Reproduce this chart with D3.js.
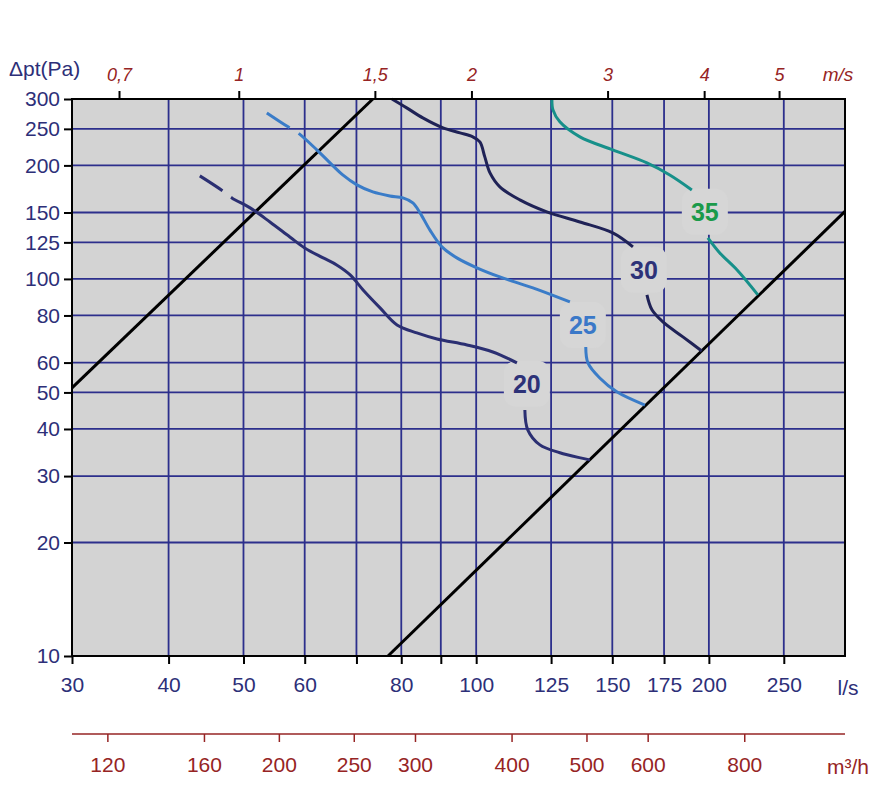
<!DOCTYPE html>
<html><head><meta charset="utf-8">
<script src="https://cdn.jsdelivr.net/npm/d3@7"></script>
<style>body{margin:0;background:#fff}svg{display:block;font-family:"Liberation Sans",Arial,sans-serif}</style>
</head><body><svg id="c" width="877" height="796"></svg>
<script>
// ---- data ----
const flowTicks = [30,40,50,60,70,80,90,100,125,150,175,200,250];
const flowLabels = [30,40,50,60,80,100,125,150,175,200,250];
const dpTicks = [10,20,30,40,50,60,80,100,125,150,200,250,300];
const dpGrid = [20,30,40,50,60,80,100,125,150,200,250];
const velTicks = [0.7,1,1.5,2,3,4,5];
const velFactor = 49.3;          // l/s per m/s
const m3hTicks = [120,160,200,250,300,400,500,600,800];

const limitLow  = [[30,51.4],[73.5,300]];
const limitHigh = [[76.9,10],[300,151]];

const nc20Upper = [[43.9,187.6],[47.0,171.2],[48.3,164.0],[51.0,154.3],[54.1,141.6],[57.4,129.2],[60.0,120.8],[63.4,113.7],[66.0,108.9],[68.7,102.5],[71.4,93.5],[75.1,83.8],[79.0,75.5],[83.8,71.9],[89.0,69.3],[97.3,66.8],[105.1,64.0],[112.9,59.9]];
const nc20Lower = [[115.6,44.9],[116.6,39.8],[120.9,36.3],[128.3,34.6],[140.3,33.1]];
const nc25Upper = [[53.6,275.6],[57.1,253.1],[58.8,244.0],[62.2,219.9],[64.7,203.1],[67.2,188.7],[70.1,177.6],[73.5,170.1],[77.3,166.0],[80.4,164.0],[82.8,159.1],[84.6,149.7],[87.1,134.9],[90.3,121.6],[94.4,113.7],[100.2,107.0],[107.3,101.2],[118.4,94.7],[132.2,86.9]];
const nc25Lower = [[138.6,66.0],[139.5,59.9],[144.5,54.6],[152.0,50.2],[165.3,46.3]];
const nc30Upper = [[77.8,300],[81.3,284.2],[85.3,267.3],[90.6,251.5],[95.3,244.0],[99.0,238.1],[101.1,230.9],[102.6,210.7],[104.2,191.0],[107.3,175.4],[113.9,162.0],[123.4,150.6],[136.2,141.6],[150.2,132.4],[159.5,121.6]];
const nc30Lower = [[166.3,90.7],[168.8,82.8],[174.4,76.9],[185.1,70.2],[195.8,64.4]];
const nc35Upper = [[125.3,298.4],[125.7,280.7],[128.3,260.9],[136.2,238.1],[150.2,219.9],[166.3,203.1],[178.0,188.7],[190.1,172.2]];
const nc35Lower = [[199.4,128.5],[206.6,117.2],[217.4,105.7],[231.4,90.7]];
const ncLabels = [
  {t:"20", q:116.3, dp:52.7},
  {t:"25", q:137.4, dp:75.5},
  {t:"30", q:164.8, dp:105.7},
  {t:"35", q:197.6, dp:150.6}
];

// ---- layout ----
const L=72, R=845, T=99, B=656;
const navy="#2d2f78", red="#962424", bg="#d3d3d3", grid="#2c2f8c";
const svg=d3.select("#c");
const x=d3.scaleLog().domain([30,300]).range([L,R]);
const y=d3.scaleLog().domain([10,300]).range([B,T]);

svg.append("rect").attr("x",L).attr("y",T).attr("width",R-L).attr("height",B-T).attr("fill",bg);

// grid
const g=svg.append("g");
g.selectAll(".vg").data(flowTicks.filter(d=>d>30)).join("line")
  .attr("x1",d=>x(d)).attr("x2",d=>x(d)).attr("y1",T).attr("y2",B)
  .attr("stroke",grid).attr("stroke-width",1.8);
g.selectAll(".hg").data(dpGrid).join("line")
  .attr("y1",d=>y(d)).attr("y2",d=>y(d)).attr("x1",L).attr("x2",R)
  .attr("stroke",grid).attr("stroke-width",1.8);

// label backgrounds (gaps in grid)
const lblBox = svg.append("g");
ncLabels.forEach(l=>{
  lblBox.append("rect").attr("x",x(l.q)-23).attr("y",y(l.dp)-23).attr("width",46).attr("height",46)
    .attr("rx",12).attr("fill","#d6d6d6");
});

// limit lines
const line=d3.line().x(d=>x(d[0])).y(d=>y(d[1]));
[limitLow,limitHigh].forEach(d=>svg.append("path").attr("d",line(d)).attr("fill","none")
  .attr("stroke","#000").attr("stroke-width",3));

// noise curves
const cl=d3.line().x(d=>x(d[0])).y(d=>y(d[1])).curve(d3.curveCatmullRom.alpha(0.5));
function curve(data,color,dashed){
  const p=svg.append("path").attr("d",cl(data)).attr("fill","none").attr("stroke",color)
    .attr("stroke-width",3).attr("stroke-linecap","butt");
  if(dashed){const len=p.node().getTotalLength();p.attr("stroke-dasharray",`27,11,${len}`);}
}
const c20="#2b2f72", c25="#3a7cc8", c30="#1f2256", c35="#17908a";
curve(nc20Upper,c20,true); curve(nc20Lower,c20,false);
curve(nc25Upper,c25,true); curve(nc25Lower,c25,false);
curve(nc30Upper,c30,false); curve(nc30Lower,c30,false);
curve(nc35Upper,c35,false); curve(nc35Lower,c35,false);

const lblColors={"20":"#2d3278","25":"#3a78c8","30":"#2d3278","35":"#1a9a4a"};
ncLabels.forEach(l=>{
  svg.append("text").attr("x",x(l.q)).attr("y",y(l.dp)).attr("dy","0.36em").attr("text-anchor","middle")
    .attr("font-size",25).attr("font-weight","bold").attr("fill",lblColors[l.t]).text(l.t);
});

// frame
svg.append("rect").attr("x",L).attr("y",T).attr("width",R-L).attr("height",B-T)
  .attr("fill","none").attr("stroke","#000").attr("stroke-width",2);

// axes
const fmtComma=d=>String(d).replace(".",",");
const ax=svg.append("g").attr("transform",`translate(${L},0)`)
  .call(d3.axisLeft(y).tickValues(dpTicks).tickSize(8).tickPadding(4).tickFormat(d=>d));
const bx=svg.append("g").attr("transform",`translate(0,${B})`)
  .call(d3.axisBottom(x).tickValues(flowTicks).tickSize(8).tickPadding(13).tickFormat(d=>flowLabels.includes(d)?d:""));
const tx=svg.append("g").attr("transform",`translate(0,${T})`)
  .call(d3.axisTop(x).tickValues(velTicks.map(v=>v*velFactor)).tickSize(8).tickPadding(10)
    .tickFormat((d,i)=>fmtComma(velTicks[i])));
const mx=svg.append("g").attr("transform",`translate(0,734)`)
  .call(d3.axisBottom(x).tickValues(m3hTicks.map(v=>v/3.6)).tickSize(8).tickPadding(15)
    .tickFormat((d,i)=>m3hTicks[i]));
mx.select(".domain").attr("d",`M${L},0H${R}`);

[ax,bx,tx].forEach(a=>{a.select(".domain").remove();a.selectAll(".tick line").attr("stroke","#000").attr("stroke-width",2);});
[ax,bx].forEach(a=>a.selectAll("text").attr("fill",navy).attr("font-size",21).attr("font-family","Liberation Sans, Arial"));
tx.selectAll("text").attr("fill",red).attr("font-size",18).attr("font-style","italic").attr("font-family","Liberation Sans, Arial");
mx.select(".domain").attr("stroke",red).attr("stroke-width",1.5);
mx.selectAll(".tick line").attr("stroke",red).attr("stroke-width",1.5);
mx.selectAll("text").attr("fill",red).attr("font-size",21).attr("font-family","Liberation Sans, Arial");

// unit labels
svg.append("text").attr("x",9).attr("y",76).attr("fill",navy).attr("font-size",21).text("Δpt(Pa)");
svg.append("text").attr("x",838).attr("y",81).attr("text-anchor","middle").attr("fill",red).attr("font-size",19).attr("font-style","italic").text("m/s");
svg.append("text").attr("x",848).attr("y",695).attr("text-anchor","middle").attr("fill",navy).attr("font-size",21).text("l/s");
svg.append("text").attr("x",848).attr("y",774).attr("text-anchor","middle").attr("fill",red).attr("font-size",21).text("m³/h");
</script></body></html>
